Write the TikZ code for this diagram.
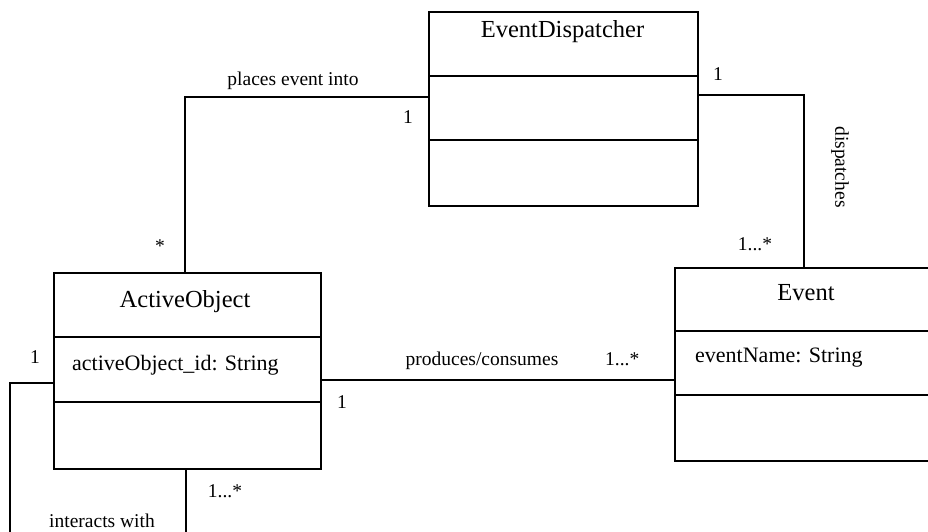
\documentclass[tikz,border=0pt]{standalone}
\usepackage{fontspec}
\setmainfont{Liberation Serif}
\begin{document}
\begin{tikzpicture}[x=1pt,y=-1pt,
  ln/.style={line width=1.5pt},
  cls/.style={draw, ln, rectangle, inner sep=0pt, anchor=north west},
  ttl/.style={anchor=base, inner sep=0pt, font=\fontsize{24.5}{28}\selectfont},
  attr/.style={anchor=base west, inner sep=0pt, font=\fontsize{22}{26}\selectfont},
  lbl/.style={anchor=base, inner sep=0pt, font=\fontsize{19.5}{23}\selectfont}]
\useasboundingbox (0,0) rectangle (928,531);
\clip (0,0) rectangle (928,531);
% classes
\node[cls, minimum width=269pt, minimum height=194pt] (ed) at (428,11) {};
\node[cls, minimum width=267pt, minimum height=196pt] (ao) at (53,272) {};
\node[cls, minimum width=267pt, minimum height=193pt] (ev) at (674,267) {};
% compartments
\draw[ln] (ed.north west) ++(0,65) -- ++(269,0);
\draw[ln] (ed.north west) ++(0,129) -- ++(269,0);
\draw[ln] (ao.north west) ++(0,65) -- ++(267,0);
\draw[ln] (ao.north west) ++(0,130) -- ++(267,0);
\draw[ln] (ev.north west) ++(0,64) -- ++(267,0);
\draw[ln] (ev.north west) ++(0,128) -- ++(267,0);
% titles and attributes
\node[ttl] (edt) at (562.5,37) {EventDispatcher};
\node[ttl] (aot) at (185,307) {ActiveObject};
\node[ttl] (evt) at (806,300) {Event};
\node[attr] (aoa) at (72,370) {activeObject\_id: String};
\node[attr] (eva) at (695,362) {eventName: String};
% connectors
\coordinate (pc) at (185,97);
\coordinate (dc) at (804,95);
\coordinate (pr) at (0,380);
\coordinate (ic) at (10,383);
\coordinate (icend) at (10,540);
\coordinate (ib) at (186,540);
\draw[ln] (ed.west |- pc) -- (pc) -- (ao.north -| pc);
\draw[ln] (ed.east |- dc) -- (dc) -- (ev.north -| dc);
\draw[ln] (ao.east |- pr) -- (ev.west |- pr);
\draw[ln] (ao.west |- ic) -- (ic) -- (icend);
\draw[ln] (ao.south -| ib) -- (ib);
% labels
\node[lbl] (l1) at (293,85) {places event into};
\node[lbl] (m1) at (408,123) {1};
\node[lbl] (m2) at (160,252) {*};
\node[lbl] (l2) at (482,365) {produces/consumes};
\node[lbl] (m3) at (342,408) {1};
\node[lbl, anchor=base west] (m4) at (605,365) {1...*};
\node[lbl] (m5) at (35,363) {1};
\node[lbl] (m6) at (225,497) {1...*};
\node[lbl] (l3) at (102,527) {interacts with};
\node[lbl] (m7) at (718,80) {1};
\node[lbl] (m8) at (755,250) {1...*};
\node[lbl, anchor=center, rotate=-90] (l4) at (840,167) {dispatches};
\end{tikzpicture}
\end{document}
